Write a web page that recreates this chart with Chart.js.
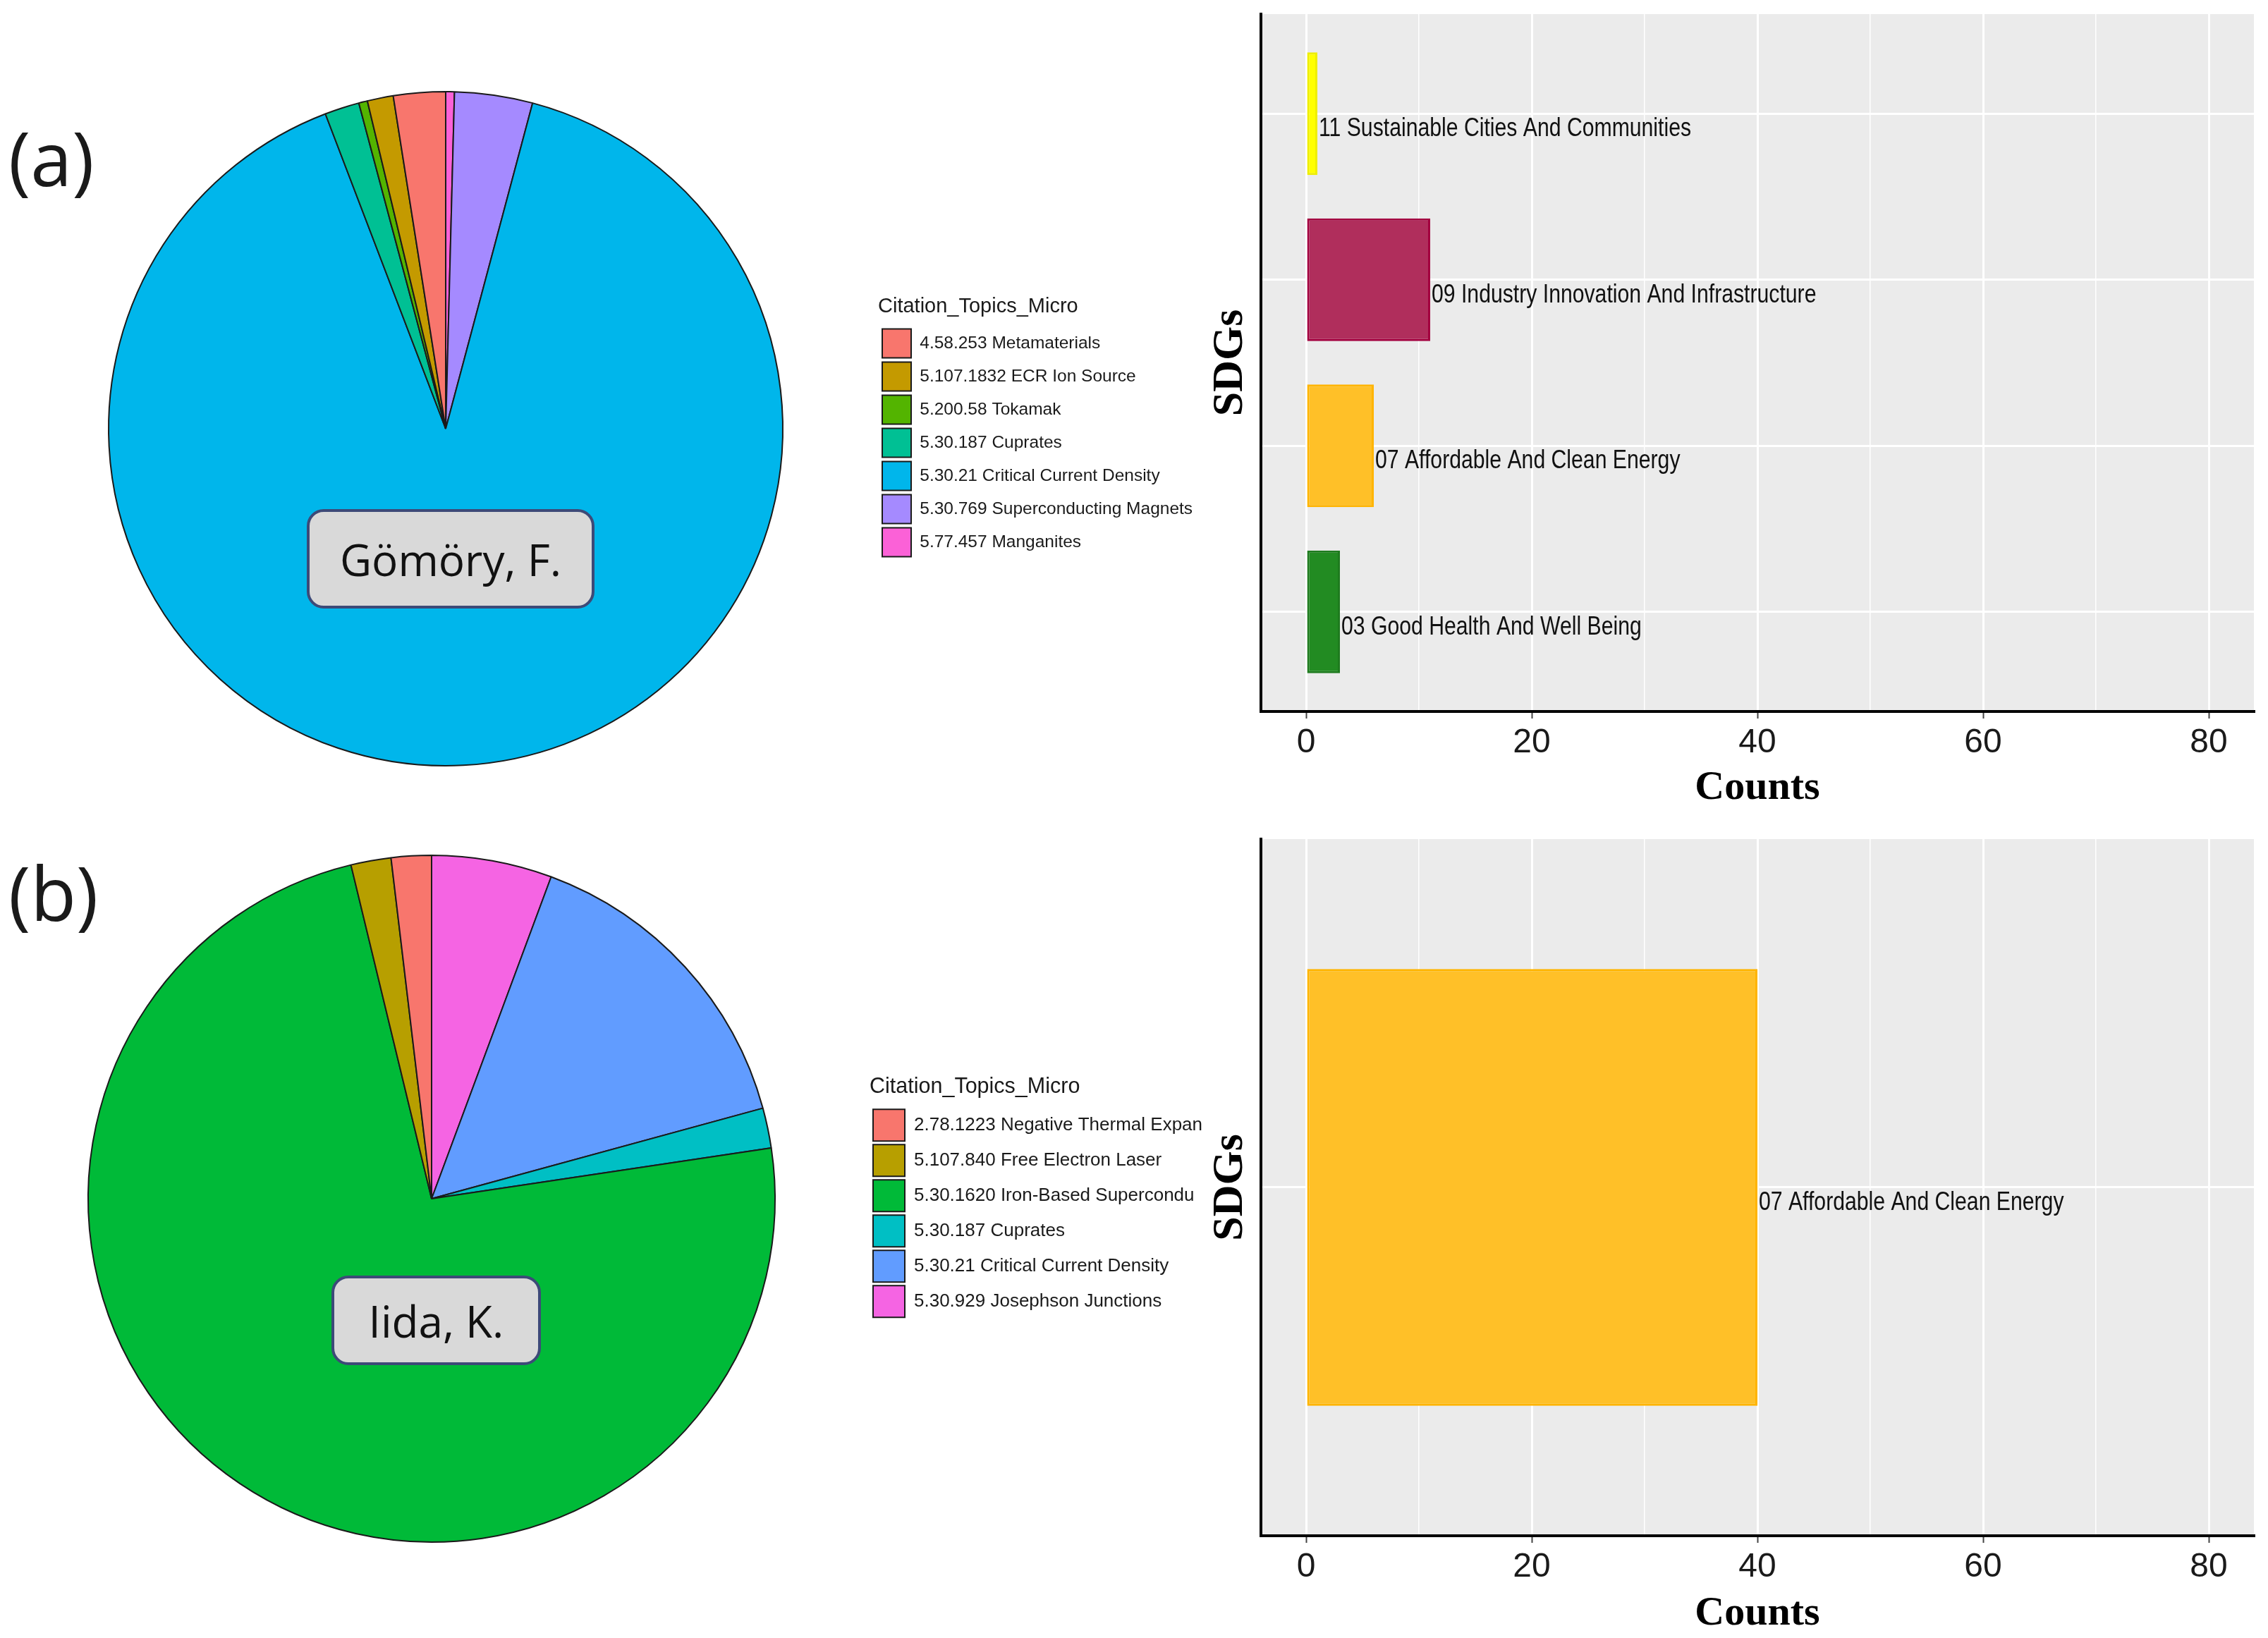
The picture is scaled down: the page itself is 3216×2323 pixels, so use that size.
<!DOCTYPE html>
<html>
<head>
<meta charset="utf-8">
<script src="https://cdn.jsdelivr.net/npm/chart.js@4.4.0/dist/chart.umd.min.js"></script>
<style>
  body { margin: 0; width: 3216px; height: 2323px; background: #fff; position: relative; overflow: hidden; }
  canvas { position: absolute; }
  .tag { position: absolute; font-family: 'Open Sans', sans-serif; font-size: 106px; line-height: 1; color: #1a1a1a; }
  .box { position: absolute; box-sizing: border-box; display: flex; align-items: center; justify-content: center;
         background: #d9d9d9; border: 4px solid #3d4a78; border-radius: 24px;
         font-family: 'Open Sans', sans-serif; font-size: 62px; color: #111; }
</style>
</head>
<body>
<canvas id="pieA" width="1760" height="1216" style="left:0; top:0;"></canvas>
<canvas id="pieB" width="1760" height="1080" style="left:-10px; top:1160px;"></canvas>
<canvas id="barA" width="1516" height="1160" style="left:1700px; top:0;"></canvas>
<canvas id="barB" width="1516" height="1160" style="left:1700px; top:1163px;"></canvas>
<div class="tag" style="left:12px; top:170px;">(a)</div>
<div class="tag" style="left:12px; top:1212px;">(b)</div>
<div class="box" style="left:435px; top:722px; width:408px; height:141px;">Gömöry, F.</div>
<div class="box" style="left:470px; top:1809px; width:297px; height:127px;">Iida, K.</div>
<script>
// (a) Gömöry, F. - citation topics (legend order)
const topicsA = ['4.58.253 Metamaterials', '5.107.1832 ECR Ion Source', '5.200.58 Tokamak', '5.30.187 Cuprates',
                 '5.30.21 Critical Current Density', '5.30.769 Superconducting Magnets', '5.77.457 Manganites'];
const countsA = [6, 3, 1, 4, 217, 9, 1];
const coloursA = ['#F8766D', '#C49A00', '#53B400', '#00C094', '#00B6EB', '#A58AFF', '#FB61D7'];

// (b) Iida, K.
const topicsB = ['2.78.1223 Negative Thermal Expan', '5.107.840 Free Electron Laser', '5.30.1620 Iron-Based Supercondu',
                 '5.30.187 Cuprates', '5.30.21 Critical Current Density', '5.30.929 Josephson Junctions'];
const countsB = [1, 1, 39, 1, 8, 3];
const coloursB = ['#F8766D', '#B79F00', '#00BA38', '#00BFC4', '#619CFF', '#F564E3'];

// SDG bars, top to bottom
const sdgsA = ['11 Sustainable Cities And Communities', '09 Industry Innovation And Infrastructure',
               '07 Affordable And Clean Energy', '03 Good Health And Well Being'];
const sdgCountsA = [1, 11, 6, 3];
const sdgColoursA = ['#FFFF00', '#B02E5C', '#FFC028', '#228B22'];
const sdgEdgesA = ['#EEEE00', '#A3003F', '#FFB400', '#1E7B1E'];

const sdgsB = ['07 Affordable And Clean Energy'];
const sdgCountsB = [40];
const sdgColoursB = ['#FFC028'];
const sdgEdgesB = ['#FFB400'];

// x axis: grid every 10, labels every 20
const countGrid = [0, 10, 20, 30, 40, 50, 60, 70, 80];
const countLabels = [0, 20, 40, 60, 80];

const SANS = "'Liberation Sans', Arial, sans-serif";
const SERIF = "'Liberation Serif', 'Times New Roman', serif";

Chart.defaults.font.family = SANS;

function makePie(id, labels, counts, colours, radius, centreX, legendLeft, sizes) {
  // ggplot lays the slices anticlockwise from 12 o'clock, Chart.js clockwise:
  // feed the slices reversed and reverse the legend back
  const chart = new Chart(document.getElementById(id), {
    type: 'pie',
    data: {
      labels: labels.slice().reverse(),
      datasets: [{
        data: counts.slice().reverse(),
        backgroundColor: colours.slice().reverse(),
        borderColor: '#1a1a1a',
        borderWidth: 2
      }]
    },
    options: {
      responsive: false,
      animation: false,
      radius: radius,
      layout: { padding: { left: 2 * centreX - legendLeft, right: 0, top: 0, bottom: 0 } },
      plugins: {
        tooltip: { enabled: false },
        legend: {
          position: 'right',
          reverse: true,
          title: {
            display: true,
            text: 'Citation_Topics_Micro',
            position: 'start',
            color: '#1a1a1a',
            font: { size: sizes.title },
            padding: { top: 0, bottom: 5 }
          },
          labels: {
            boxWidth: sizes.box,
            boxHeight: sizes.box,
            padding: sizes.gap,
            color: '#1a1a1a',
            font: { size: sizes.item }
          }
        }
      }
    }
  });
  // push the legend so that it starts where the reference has it
  chart.options.layout.padding.right = chart.legend.left - legendLeft;
  chart.update();
  return chart;
}

const panelBg = {
  id: 'panelBg',
  beforeDraw(chart) {
    const { ctx, chartArea: a } = chart;
    ctx.save();
    ctx.fillStyle = '#EBEBEB';
    ctx.fillRect(a.left, a.top, a.width, a.height);
    ctx.restore();
  }
};

// bar names written at the end of each bar, in a condensed face
const barLabels = {
  id: 'barLabels',
  afterDatasetsDraw(chart) {
    const ds = chart.data.datasets[0];
    const ctx = chart.ctx;
    chart.getDatasetMeta(0).data.forEach((bar, i) => {
      ctx.save();
      ctx.translate(bar.x + 2, bar.y + 22);
      ctx.scale(0.816, 1);
      ctx.font = '37px ' + SANS;
      ctx.fillStyle = '#111';
      ctx.textAlign = 'left';
      ctx.textBaseline = 'middle';
      ctx.fillText(ds.names[i], 0, 0);
      ctx.restore();
    });
  }
};

function makeBars(id, names, counts, colours, edges, o) {
  const pos = names.map((n, i) => i + 1);
  return new Chart(document.getElementById(id), {
    type: 'bar',
    data: {
      datasets: [{
        names: names,
        data: counts.map((v, i) => ({ x: v, y: pos[i] })),
        backgroundColor: colours,
        borderColor: edges,
        borderWidth: 3,
        borderSkipped: false,
        categoryPercentage: 1,
        barPercentage: o.barPct
      }]
    },
    options: {
      indexAxis: 'y',
      responsive: false,
      animation: false,
      layout: { padding: { top: o.top, right: 20, left: 0, bottom: 0 } },
      plugins: { legend: { display: false }, tooltip: { enabled: false } },
      scales: {
        x: {
          type: 'linear',
          min: -4,
          max: 84,
          afterBuildTicks: s => { s.ticks = countGrid.map(v => ({ value: v })); },
          ticks: {
            autoSkip: false,
            maxRotation: 0,
            padding: 6,
            color: '#1a1a1a',
            font: { size: 48 },
            callback: v => countLabels.includes(v) ? String(v) : ''
          },
          grid: {
            color: '#ffffff',
            lineWidth: c => countLabels.includes(c.tick.value) ? 3 : 1.5,
            tickLength: 10,
            tickWidth: 2,
            tickColor: c => countLabels.includes(c.tick.value) ? '#444' : 'rgba(0,0,0,0)'
          },
          border: { color: '#000', width: 4 },
          title: {
            display: true,
            text: 'Counts',
            color: '#000',
            font: { family: SERIF, weight: 'bold', size: 58, lineHeight: 1 },
            padding: { top: 0, bottom: o.countsPad }
          },
          afterFit: s => { s.height = o.axisH; }
        },
        y: {
          type: 'linear',
          min: 0.4,
          max: names.length + 0.6,
          reverse: true,
          offset: false,
          afterBuildTicks: s => { s.ticks = pos.map(v => ({ value: v })); },
          ticks: { display: false },
          grid: { color: '#ffffff', lineWidth: 3, drawTicks: false, offset: false },
          border: { color: '#000', width: 4 },
          title: {
            display: true,
            text: 'SDGs',
            color: '#000',
            font: { family: SERIF, weight: 'bold', size: 62, lineHeight: 1 },
            padding: { top: 14, bottom: 0 }
          },
          afterFit: s => { s.width = 88; }
        }
      }
    },
    plugins: [panelBg, barLabels]
  });
}

makePie('pieA', topicsA, countsA, coloursA, 478, 632, 1245, { title: 29, item: 24.5, box: 41, gap: 6 });
makePie('pieB', topicsB, countsB, coloursB, 487, 622, 1243, { title: 30.5, item: 26, box: 45, gap: 5 });

makeBars('barA', sdgsA, sdgCountsA, sdgColoursA, sdgEdgesA, { top: 20, axisH: 151, countsPad: 13, barPct: 0.739 });
makeBars('barB', sdgsB, sdgCountsB, sdgColoursB, sdgEdgesB, { top: 27, axisH: 145, countsPad: 5, barPct: 0.627 });
</script>
</body>
</html>
